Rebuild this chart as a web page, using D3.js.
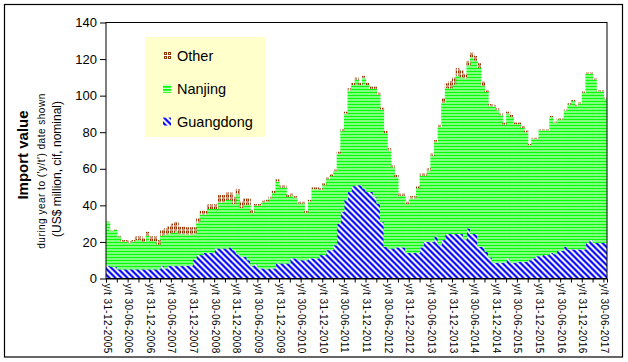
<!DOCTYPE html>
<html>
<head>
<meta charset="utf-8">
<script src="https://cdn.jsdelivr.net/npm/d3@7"></script>
<style>
body { margin: 0; background: #fff; }
svg { display: block; font-family: "Liberation Sans", Arial, sans-serif; }
</style>
</head>
<body>
<div id="chart"></div>
<script>
// monthly y/t values, Dec 2005 .. Jun 2017 (US$ million)
const guangdong = [
    7, 6.4, 6.4, 5, 5, 5, 5, 5, 5, 5, 5, 5,
    5, 5, 5, 6.8, 5.5, 6.8, 6.8, 6.8, 6.8, 6.8, 7, 7,
    10.4, 12.8, 12.8, 14, 14, 14, 16.4, 16.4, 16.4, 16.4, 17, 15.5,
    13.3, 11.9, 11.9, 10, 6.8, 7.8, 5.5, 5.5, 5, 5.5, 5.5, 8.2,
    8.2, 8.2, 8.2, 11, 11, 10, 10, 10, 11, 11, 11, 12.8,
    12.8, 15.5, 15.5, 18.2, 30, 36.5, 42.9, 47.4, 50.5, 51, 51, 49.3,
    47.4, 47.4, 44.7, 41, 31, 17.3, 16.4, 16.4, 17, 17, 17, 14,
    14, 14, 14, 17, 20, 20, 20, 23, 18.2, 21, 24.3, 24.3,
    24.3, 24.3, 24.3, 21.4, 27.4, 24.3, 24.3, 17.3, 17.3, 14.6, 11.5, 8.6,
    8.6, 8.6, 8.6, 11, 8.6, 8.6, 9.1, 9.1, 9.1, 10, 11, 12.2,
    12.2, 12.8, 12.8, 14, 13.3, 15.1, 15.1, 17.3, 15.9, 15.9, 15.9, 15.9,
    15.9, 19.5, 21, 19.5, 19.5, 19.5, 19.5
];
const nanjing = [
    24, 19.6, 20.1, 18, 15, 15, 14.4, 15, 16, 16, 15, 18.5,
    15.5, 15.5, 13.5, 16.7, 18.4, 17.8, 18.2, 19.2, 17.5, 17.5, 17, 17,
    14.1, 17.7, 22.2, 21, 24, 24, 21.6, 25.2, 25.2, 26.6, 26, 25.2,
    32.7, 26.6, 28.4, 30.3, 29.1, 31.9, 34.2, 36, 37, 38.2, 41.3, 44.8,
    41.6, 41.6, 36.4, 34.5, 33, 31, 31, 26, 31, 37.8, 37.8, 35.5,
    38.2, 38.8, 40.5, 40.5, 38.1, 44.1, 47.1, 55.4, 55.3, 57.8, 54.8, 60.3,
    58.4, 56.4, 59.1, 59.4, 61.2, 62.3, 53.6, 44.4, 38.4, 28.3, 28.3, 26.8,
    29.8, 29.8, 35.3, 39.3, 36.3, 39, 47.2, 51.5, 64.6, 75, 79.9, 79.7,
    81.7, 86.7, 85.7, 88.1, 89.1, 96.7, 94.9, 97.9, 87.9, 87.4, 82.9, 85.4,
    83.4, 80.7, 75.6, 79.2, 79.8, 75.8, 75.3, 73.3, 70.9, 62.9, 65.4, 64.2,
    68.8, 68.2, 68.2, 74.3, 71.9, 71.9, 71.9, 74.6, 79.3, 81.1, 78.4, 79.9,
    85.7, 92.5, 91, 89.4, 82.9, 82.9, 78.9
];
const other = [
    0.3, 0.3, 0.3, 0.3, 1, 1, 1, 1, 2, 2, 2, 2,
    2.5, 2.5, 2.5, 3, 3.5, 4, 5, 5, 4, 4, 4, 4,
    3.5, 2.5, 2, 2, 2.5, 2.5, 2.5, 4, 4, 4, 4, 4,
    3, 3.5, 3.5, 3.5, 1.5, 1, 1, 1, 1, 1, 1.2, 1.2,
    1.2, 1.2, 1, 1, 1, 1, 1, 1, 1, 1, 1, 1,
    1, 1, 1, 1, 1.2, 1.2, 1.2, 1.2, 1.2, 1.2, 1.2, 1.2,
    1.2, 1.2, 1.2, 1.2, 1.2, 1.2, 1.2, 1.2, 1.2, 1.2, 1.2, 1.2,
    1.2, 1.2, 1.2, 1.2, 1.2, 1.2, 1.2, 1.2, 1.2, 2.5, 2.5, 4,
    4, 4, 4, 2.5, 2.5, 2.5, 2.5, 2.5, 2.5, 1, 1, 1,
    1, 1, 1, 1, 1, 1, 1, 1, 1, 0.6, 0.6, 0.6,
    0.6, 0.6, 0.6, 0.6, 0.6, 0.6, 0.6, 0.6, 0.6, 0.6, 0.6, 0.6,
    0.6, 0.6, 0.6, 0.6, 0.6, 0.6, 0.6
];
// one label every 6 months
const tickLabels = [
    'y/t 31-12-2005', 'y/t 30-06-2006', 'y/t 31-12-2006', 'y/t 30-06-2007',
    'y/t 31-12-2007', 'y/t 30-06-2008', 'y/t 31-12-2008', 'y/t 30-06-2009',
    'y/t 31-12-2009', 'y/t 30-06-2010', 'y/t 31-12-2010', 'y/t 30-06-2011',
    'y/t 31-12-2011', 'y/t 30-06-2012', 'y/t 31-12-2012', 'y/t 30-06-2013',
    'y/t 31-12-2013', 'y/t 30-06-2014', 'y/t 31-12-2014', 'y/t 30-06-2015',
    'y/t 31-12-2015', 'y/t 30-06-2016', 'y/t 31-12-2016', 'y/t 30-06-2017'
];
const yTicks = [0, 20, 40, 60, 80, 100, 120, 140];
const legendItems = [
    { key: 'other', label: 'Other' },
    { key: 'nanjing', label: 'Nanjing' },
    { key: 'guangdong', label: 'Guangdong' }
];

const n = guangdong.length;
const categories = d3.range(n);
const keys = ['guangdong', 'nanjing', 'other'];
const table = categories.map((c, i) => ({
    cat: c, guangdong: guangdong[i], nanjing: nanjing[i], other: other[i]
}));

// 1. svg + margin convention
const W = 628, H = 362;
const margin = { top: 22.5, right: 21, bottom: 83.5, left: 106 };
const width = W - margin.left - margin.right;
const height = H - margin.top - margin.bottom;

const svg = d3.select('#chart')
    .append('svg')
    .attr('width', W)
    .attr('height', H);

svg.append('rect').attr('width', W).attr('height', H).attr('fill', '#fff');

// fill patterns
const defs = svg.append('defs');
const pg = defs.append('pattern').attr('id', 'pat-guangdong')
    .attr('patternUnits', 'userSpaceOnUse').attr('width', 6).attr('height', 6);
pg.append('rect').attr('width', 6).attr('height', 6).attr('fill', '#fff');
pg.append('path').attr('d', 'M-1,-1L7,7M-1,5L1,7M5,-1L7,1')
    .attr('stroke', '#0000ff').attr('stroke-width', 2.2);

const pn = defs.append('pattern').attr('id', 'pat-nanjing')
    .attr('patternUnits', 'userSpaceOnUse').attr('width', 4).attr('height', 3);
pn.append('rect').attr('width', 4).attr('height', 3).attr('fill', '#fff');
pn.append('rect').attr('width', 4).attr('height', 2).attr('fill', '#00ff00');

// small brown rings on white
const po = defs.append('pattern').attr('id', 'pat-other')
    .attr('patternUnits', 'userSpaceOnUse').attr('width', 4).attr('height', 4);
po.append('rect').attr('width', 4).attr('height', 4).attr('fill', '#fff');
[[0, 0, 3, 1], [0, 1, 1, 1], [2, 1, 1, 1], [0, 2, 3, 1]].forEach(r => {
    po.append('rect').attr('x', r[0]).attr('y', r[1]).attr('width', r[2]).attr('height', r[3])
        .attr('fill', '#993300');
});

const group = svg.append('g')
    .attr('transform', 'translate(' + margin.left + ',' + margin.top + ')');

// 2. scales
const xScale = d3.scaleBand().domain(categories).range([0, width]).padding(0);
const xTick = d3.scaleLinear().domain([0, n]).range([0, width]);
const yScale = d3.scaleLinear().domain([0, 140]).range([height, 0]);

// bars
const series = d3.stack().keys(keys)(table);
group.append('g')
    .selectAll('g')
    .data(series)
    .join('g')
    .attr('fill', d => 'url(#pat-' + d.key + ')')
    .selectAll('rect')
    .data(d => d)
    .join('rect')
    .attr('x', d => xScale(d.data.cat))
    .attr('y', d => yScale(d[1]))
    .attr('width', d => Math.min(xScale.bandwidth() + 0.6, width - xScale(d.data.cat)))
    .attr('height', d => yScale(d[0]) - yScale(d[1]));

// plot border
group.append('rect')
    .attr('x', 0).attr('y', 0)
    .attr('width', width).attr('height', height)
    .attr('fill', 'none').attr('stroke', '#000').attr('stroke-width', 1);

// axes
const yAxis = d3.axisLeft(yScale).tickValues(yTicks).tickSize(6).tickPadding(3);
const yAxisGroup = group.append('g').attr('class', 'y-axis axis').call(yAxis);
yAxisGroup.select('.domain').remove();
yAxisGroup.selectAll('line').attr('stroke', '#000');
yAxisGroup.selectAll('text')
    .attr('fill', '#000')
    .style('font-size', '13px')
    .style('font-family', '"Liberation Sans", Arial, sans-serif');

const xAxis = d3.axisBottom(xTick)
    .tickValues(d3.range(0, n, 3))
    .tickSize(4)
    .tickFormat(i => (i % 6 === 0 ? tickLabels[i / 6] : ''));
const xAxisGroup = group.append('g')
    .attr('class', 'x-axis axis')
    .attr('transform', 'translate(0,' + height + ')')
    .call(xAxis);
xAxisGroup.select('.domain').attr('stroke', '#000');
xAxisGroup.selectAll('line').attr('stroke', '#000');
xAxisGroup.selectAll('text')
    .attr('transform', 'rotate(90)')
    .attr('x', 5)
    .attr('y', -0.5)
    .attr('dy', '0.35em')
    .attr('fill', '#000')
    .style('text-anchor', 'start')
    .style('font-size', '10px')
    .style('letter-spacing', '0.4px')
    .style('font-family', '"Liberation Sans", Arial, sans-serif');

// y titles
svg.append('text')
    .attr('transform', 'translate(28,155) rotate(-90)')
    .attr('text-anchor', 'middle')
    .style('font-size', '15px')
    .style('font-weight', 'bold')
    .text('Import value');
svg.append('text')
    .attr('transform', 'translate(45,171) rotate(-90)')
    .attr('text-anchor', 'middle')
    .style('font-size', '10px')
    .style('letter-spacing', '0.5px')
    .text("during year to ('y/t') date shown");
svg.append('text')
    .attr('transform', 'translate(60.5,169) rotate(-90)')
    .attr('text-anchor', 'middle')
    .style('font-size', '12px')
    .text('(US$ million, cif, nominal)');

// legend
const legend = svg.append('g').attr('class', 'legend');
legend.append('rect')
    .attr('x', 145).attr('y', 37)
    .attr('width', 120).attr('height', 100)
    .attr('fill', '#ffffcc');
const items = legend.selectAll('g.item')
    .data(legendItems)
    .join('g')
    .attr('class', 'item')
    .attr('transform', (d, i) => 'translate(0,' + (56 + i * 32.8) + ')');
items.append('rect')
    .attr('x', 163).attr('y', -4)
    .attr('width', 8).attr('height', 8)
    .attr('fill', d => 'url(#pat-' + d.key + ')');
items.append('text')
    .attr('x', 177).attr('y', 0)
    .attr('dy', '0.35em')
    .style('font-size', '14.5px')
    .text(d => d.label);

// outer chart border
svg.append('rect')
    .attr('x', 4.5).attr('y', 4.5)
    .attr('width', 618).attr('height', 352.5)
    .attr('fill', 'none').attr('stroke', '#000').attr('stroke-width', 1.2);
</script>
</body>
</html>
